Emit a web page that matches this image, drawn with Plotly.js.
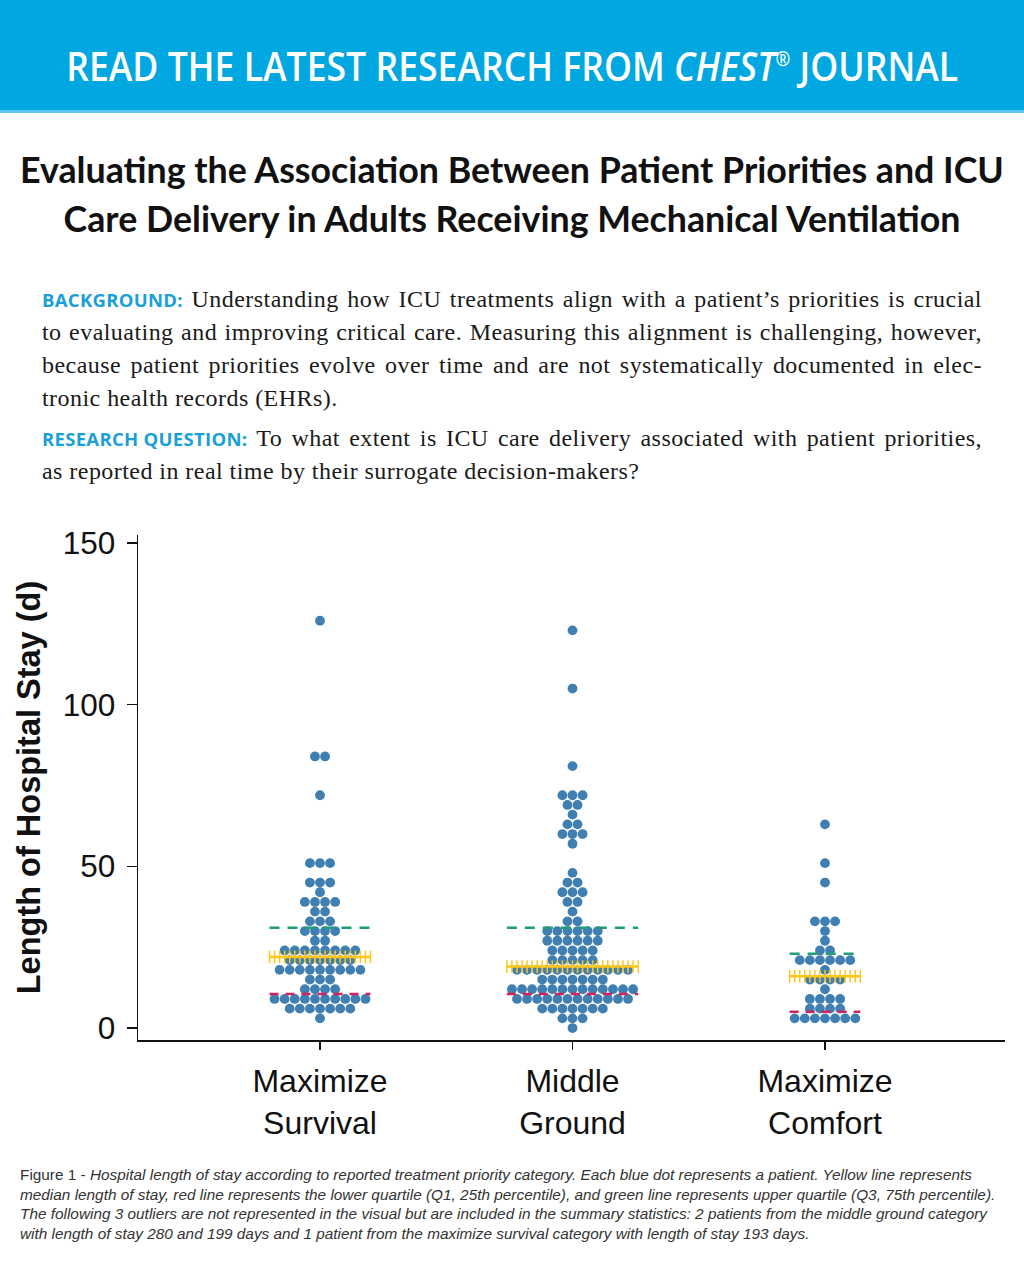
<!DOCTYPE html>
<html>
<head>
<meta charset="utf-8">
<script src="https://cdn.plot.ly/plotly-3.0.1.min.js"></script>
<style>
  html, body { margin: 0; padding: 0; background: #fff; }
  #page { position: relative; width: 1024px; height: 1280px; overflow: hidden; background: #fff; }
  #banner { position: absolute; left: 0; top: 0; width: 1024px; height: 110px; background: #00a7e1; border-bottom: 3px solid #5cc6ee; }
  #bannerText { position: absolute; left: 0; width: 1024px; top: 41px; text-align: center; color: #fff;
    font-family: "Open Sans", "Liberation Sans", sans-serif; font-weight: 600; font-size: 40px; line-height: 50px; white-space: nowrap; }
  #bannerSpan { display: inline-block; transform-origin: 50% 50%; }
  #bannerText sup { font-size: 0.5em; vertical-align: 0; position: relative; top: -0.75em; }
  #title { position: absolute; left: 0; width: 1024px; top: 145px; text-align: center; color: #111;
    font-family: "Lato", "Open Sans", sans-serif; font-weight: 700; font-size: 32px; line-height: 49px; }
  #title span { display: inline-block; white-space: nowrap; }
  #abstract { position: absolute; left: 42px; width: 940px; top: 283px; color: #1a1a1a;
    font-family: "Liberation Serif", "DejaVu Serif", serif; font-size: 24px; letter-spacing: 0.45px; line-height: 33px; }
  #abstract .ln { text-align: justify; text-align-last: justify; white-space: nowrap; }
  #abstract .last { text-align: left; text-align-last: left; }
  #abstract .gap { margin-top: 7px; }
  .lbl { display: inline-block; color: #1a9fd9; font-family: "Open Sans", "Liberation Sans", sans-serif; font-weight: 700; font-size: 18.5px; letter-spacing: 0.3px; }
  #chart { position: absolute; left: 0; top: 500px; width: 1024px; height: 660px; }
  #caption { position: absolute; left: 20px; top: 1166px; color: #333; transform-origin: 0 0;
    font-family: "Liberation Sans Narrow", "Liberation Sans", sans-serif; font-size: 14.5px; line-height: 19.5px; white-space: nowrap; }
  #caption span.cl { display: inline-block; white-space: nowrap; }
</style>
</head>
<body>
<div id="page">
  <div id="banner">
    <div id="bannerText"><span id="bannerSpan">READ THE LATEST RESEARCH FROM <i>CHEST</i><sup>®</sup> JOURNAL</span></div>
  </div>

  <div id="title">
    <span id="t1">Evaluating the Association Between Patient Priorities and ICU</span><br>
    <span id="t2">Care Delivery in Adults Receiving Mechanical Ventilation</span>
  </div>

  <div id="abstract">
    <div class="ln"><span class="lbl">BACKGROUND:</span> Understanding how ICU treatments align with a patient’s priorities is crucial</div>
    <div class="ln">to evaluating and improving critical care. Measuring this alignment is challenging, however,</div>
    <div class="ln">because patient priorities evolve over time and are not systematically documented in elec-</div>
    <div class="ln last">tronic health records (EHRs).</div>
    <div class="ln gap"><span class="lbl">RESEARCH&nbsp;QUESTION:</span> To what extent is ICU care delivery associated with patient priorities,</div>
    <div class="ln last">as reported in real time by their surrogate decision-makers?</div>
  </div>

  <div id="chart"></div>

  <div id="caption">
    <span class="cl" id="c1">Figure 1 - <i>Hospital length of stay according to reported treatment priority category. Each blue dot represents a patient. Yellow line represents</i></span><br>
    <span class="cl" id="c2"><i>median length of stay, red line represents the lower quartile (Q1, 25th percentile), and green line represents upper quartile (Q3, 75th percentile).</i></span><br>
    <span class="cl" id="c3"><i>The following 3 outliers are not represented in the visual but are included in the summary statistics: 2 patients from the middle ground category</i></span><br>
    <span class="cl" id="c4"><i>with length of stay 280 and 199 days and 1 patient from the maximize survival category with length of stay 193 days.</i></span>
  </div>
</div>

<script>
// Treatment priority categories (tick labels on the x axis)
const categoryLabels = ['Maximize<br>Survival', 'Middle<br>Ground', 'Maximize<br>Comfort'];

// Hospital length of stay in days, one entry per patient
const staySurvival = [
  126, 84, 84, 72,
  51, 51, 51, 45, 45, 45, 42, 39, 39, 39, 39, 36, 36, 33, 33, 33,
  30, 30, 30, 30, 27, 27,
  24, 24, 24, 24, 24, 24, 24, 24,
  21, 21, 21, 21, 21, 21, 21,
  18, 18, 18, 18, 18, 18, 18, 18, 18,
  15, 15, 15, 12, 12, 12, 12,
  9, 9, 9, 9, 9, 9, 9, 9, 9, 9,
  6, 6, 6, 6, 6, 6, 6, 3
];

const stayMiddle = [
  123, 105, 81,
  72, 72, 72, 69, 69, 66, 63, 63, 60, 60, 60, 57,
  48, 45, 45, 42, 42, 42, 39, 39, 36, 33, 33,
  30, 30, 30, 30, 30, 30, 27, 27, 27, 27, 27, 27,
  24, 24, 24, 24, 24, 21, 21, 21, 21, 21,
  18, 18, 18, 18, 18, 18, 18, 18, 18, 18, 18, 18,
  15, 15, 15, 15, 15, 15, 15,
  12, 12, 12, 12, 12, 12, 12, 12, 12, 12, 12, 12, 12,
  9, 9, 9, 9, 9, 9, 9, 9, 9, 9, 9, 9,
  6, 6, 6, 6, 6, 6, 6, 3, 3, 3, 0
];

const stayComfort = [
  63, 51, 45,
  33, 33, 33, 30, 27, 24, 24,
  21, 21, 21, 21, 21, 21, 18,
  15, 15, 15, 15, 12,
  9, 9, 9, 9, 6, 6, 6, 6,
  3, 3, 3, 3, 3, 3, 3
];

// Summary statistics per category (days)
const q1Values = [10.5, 10.5, 5];
const medianValues = [22, 19, 16];
const q3Values = [31, 31, 23];

const groups = [staySurvival, stayMiddle, stayComfort];

const DOT_STEP = 0.04;      // horizontal distance between neighbouring dots, in x units
const TICK_STEP = 0.0198;   // spacing of the cross ticks on the median line

const DOT_COLOR = '#3f7fb1';
const MEDIAN_COLOR = '#ffc61a';
const Q1_COLOR = '#d1235e';
const Q3_COLOR = '#1f9e74';

// Lay the patients of one category out as a centred dot row per value
function swarm(values, center) {
  const rows = new Map();
  values.forEach(v => rows.set(v, (rows.get(v) || 0) + 1));
  const xs = [], ys = [];
  rows.forEach((n, v) => {
    for (let i = 0; i < n; i++) {
      xs.push(center + (i - (n - 1) / 2) * DOT_STEP);
      ys.push(v);
    }
  });
  return { xs, ys, widest: Math.max(...rows.values()) };
}

const dotTraces = [], q1Traces = [], q3Traces = [], medTraces = [];

groups.forEach((values, g) => {
  const s = swarm(values, g);
  dotTraces.push({
    type: 'scatter', mode: 'markers', x: s.xs, y: s.ys,
    marker: { color: DOT_COLOR, size: 9.8, line: { width: 0 } },
    hoverinfo: 'y'
  });
  const half = s.widest * DOT_STEP / 2;
  q1Traces.push({
    type: 'scatter', mode: 'lines', x: [g - half, g + half], y: [q1Values[g], q1Values[g]],
    line: { color: Q1_COLOR, width: 2.5, dash: '9px,7px' }, hoverinfo: 'skip'
  });
  q3Traces.push({
    type: 'scatter', mode: 'lines', x: [g - half, g + half], y: [q3Values[g], q3Values[g]],
    line: { color: Q3_COLOR, width: 2.5, dash: '10px,8px' }, hoverinfo: 'skip'
  });
  const nTicks = Math.round(2 * half / TICK_STEP) + 1;
  const mx = [], my = [];
  for (let i = 0; i < nTicks; i++) {
    mx.push(g - half + i * (2 * half) / (nTicks - 1));
    my.push(medianValues[g]);
  }
  medTraces.push({
    type: 'scatter', mode: 'lines+markers', x: mx, y: my,
    line: { color: MEDIAN_COLOR, width: 2.5 },
    marker: { symbol: 'line-ns', size: 9, line: { color: MEDIAN_COLOR, width: 1.5 } },
    hoverinfo: 'skip'
  });
});

const layout = {
  width: 1024, height: 660,
  margin: { l: 138, r: 19, t: 35, b: 120 },
  paper_bgcolor: 'rgba(0,0,0,0)', plot_bgcolor: 'rgba(0,0,0,0)',
  showlegend: false,
  font: { family: 'Liberation Sans, Arial, sans-serif', color: '#111' },
  xaxis: {
    range: [-0.7208, 2.7129], tickvals: [0, 1, 2], ticktext: categoryLabels,
    showline: true, linecolor: '#111', linewidth: 1.5,
    ticks: 'outside', ticklen: 8, tickwidth: 1.5, tickcolor: '#111', ticklabelstandoff: 4,
    showgrid: false, zeroline: false, tickfont: { size: 32, color: '#111' }
  },
  yaxis: {
    range: [-3.7, 152.5], tickvals: [0, 50, 100, 150],
    showline: true, linecolor: '#111', linewidth: 1.5,
    ticks: 'outside', ticklen: 10, tickwidth: 1.5, tickcolor: '#111', ticklabelstandoff: 5,
    showgrid: false, zeroline: false, tickfont: { size: 31.5, color: '#111' },
    title: { text: '<b>Length of Hospital Stay (d)</b>', font: { size: 32.5, color: '#111' }, standoff: 12 }
  }
};

Plotly.newPlot('chart', [...dotTraces, ...q1Traces, ...q3Traces, ...medTraces], layout,
  { staticPlot: true, displayModeBar: false });

// Stretch or squeeze text blocks so their lines span the intended widths
function layoutText() {
  const b = document.getElementById('bannerSpan');
  b.style.transform = 'none';
  b.style.transform = 'scaleX(' + (892 / b.getBoundingClientRect().width) + ')';

  const t1 = document.getElementById('t1');
  const title = document.getElementById('title');
  title.style.fontSize = '32px';
  title.style.fontSize = (32 * 984 / t1.getBoundingClientRect().width) + 'px';

  const cap = document.getElementById('caption');
  const c3 = document.getElementById('c3');
  cap.style.transform = 'none';
  cap.style.transform = 'scaleX(' + (967 / c3.getBoundingClientRect().width) + ')';
}
layoutText();
if (document.fonts && document.fonts.ready) document.fonts.ready.then(layoutText);
</script>
</body>
</html>
